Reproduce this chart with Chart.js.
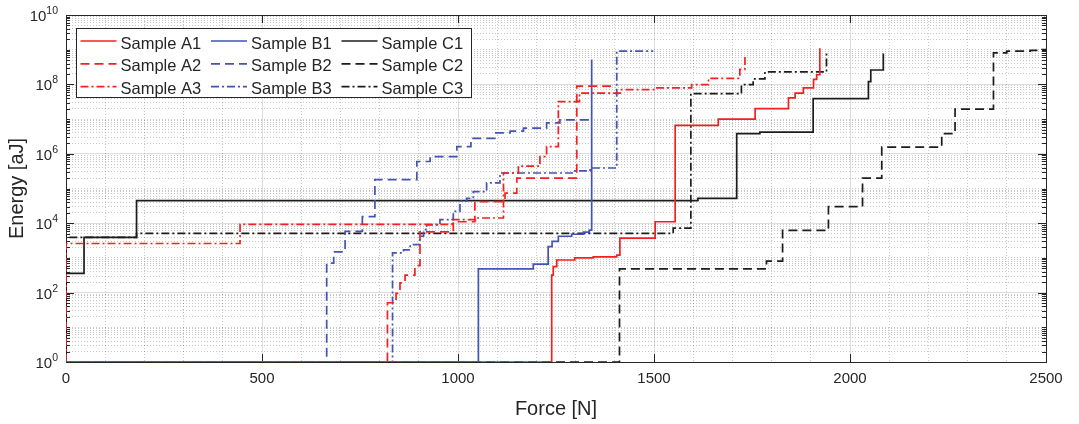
<!DOCTYPE html>
<html>
<head>
<meta charset="utf-8">
<title>Energy vs Force</title>
<script src="https://cdn.jsdelivr.net/npm/chart.js@4.4.1/dist/chart.umd.min.js"></script>
<style>
  html, body { margin: 0; padding: 0; background: #fff; }
  #wrap { width: 1079px; height: 424px; position: relative; }
</style>
</head>
<body>
<div id="wrap"><canvas id="chart"></canvas></div>
<script>
// step curves: force [N] where the energy jumps, energy [aJ] after the jump
const forceA1 = [0, 1239, 1243, 1252, 1298, 1345, 1405, 1413, 1503, 1554, 1664, 1758, 1843, 1860, 1881, 1907, 1915, 1923];
const energyA1 = [1, 320, 560, 870, 1000, 1070, 1200, 3700, 11000, 6.6e6, 1.0e7, 2.0e7, 4.1e7, 5.6e7, 7.9e7, 1.4e8, 1.9e8, 1.1e9];

const forceA2 = [0, 820, 842, 852, 865, 890, 903, 988, 1043, 1120, 1150, 1303, 1390];
const energyA2 = [1, 51, 95, 190, 320, 600, 5600, 11000, 42000, 74000, 2.0e5, 8.9e7, 8.9e7];

const forceA3 = [0, 0, 444, 985, 1045, 1116, 1154, 1209, 1226, 1256, 1310, 1417, 1507, 1596, 1639, 1719, 1732];
const energyA3 = [1, 2600, 9300, 12600, 14100, 2.8e5, 4.4e5, 8.3e5, 1.6e6, 3.2e7, 5.6e7, 7.1e7, 7.9e7, 9.8e7, 1.5e8, 2.7e8, 7.2e8];

const forceB1 = [0, 1052, 1192, 1230, 1240, 1256, 1290, 1320, 1335, 1341];
const energyB1 = [1, 480, 660, 2100, 3000, 4200, 4800, 5500, 6300, 5.2e8];

const forceB2 = [0, 665, 683, 712, 756, 788, 895, 929, 997, 1033, 1094, 1133, 1167, 1226, 1260, 1340];
const energyB2 = [1, 710, 1500, 5800, 15500, 1.8e5, 6.0e5, 8.3e5, 1.6e6, 2.8e6, 4.0e6, 4.5e6, 5.5e6, 7.8e6, 9.5e6, 9.5e6];

const forceB3 = [0, 833, 861, 878, 903, 912, 920, 954, 988, 1005, 1022, 1039, 1073, 1107, 1294, 1337, 1405, 1498];
const energyB3 = [1, 1400, 1700, 2400, 4200, 6500, 8900, 12600, 22000, 43000, 52000, 81000, 1.45e5, 2.8e5, 3.2e5, 3.9e5, 9.1e8, 9.1e8];

const forceC1 = [0, 0, 46, 180, 1612, 1711, 1770, 1906, 2047, 2053, 2085];
const energyC1 = [1, 360, 3900, 45000, 52000, 3.8e6, 4.2e6, 3.9e7, 1.2e8, 2.6e8, 7.8e8];

const forceC2 = [0, 1412, 1787, 1828, 1945, 2032, 2081, 2234, 2268, 2366, 2400, 2460, 2490, 2500];
const energyC2 = [1, 480, 810, 6200, 30000, 2.0e5, 1.55e6, 3.8e6, 1.95e7, 8.1e8, 9.1e8, 9.5e8, 1.0e9, 1.0e9];

const forceC3 = [0, 0, 180, 1549, 1594, 1723, 1753, 1783, 1940];
const energyC3 = [1, 3900, 5100, 7200, 5.4e7, 9.8e7, 1.45e8, 2.3e8, 9.1e8];

const seriesLabels = ['Sample A1', 'Sample A2', 'Sample A3', 'Sample B1', 'Sample B2', 'Sample B3', 'Sample C1', 'Sample C2', 'Sample C3'];
const xLabelTicks = [0, 500, 1000, 1500, 2000, 2500];
const yLabelExponents = [0, 2, 4, 6, 8, 10];

const RED = '#f42020';
const BLUE = '#4454b2';
const BLACK = '#1c1c1c';
const AXIS = '#262626';
const SOLID = [];
const DASHED = [9, 5];
const DASHDOT = [8, 3, 2, 3];

const FONT = '"Liberation Sans", Arial, Helvetica, sans-serif';
Chart.defaults.font.family = FONT;
Chart.defaults.color = AXIS;

function toPoints(xs, ys) {
  return xs.map((x, i) => ({ x: x, y: ys[i] }));
}

function makeSet(label, xs, ys, color, dash) {
  return {
    label: label,
    data: toPoints(xs, ys),
    borderColor: color,
    backgroundColor: color,
    borderDash: dash,
    borderWidth: 1.7,
    stepped: 'before',
    pointRadius: 0,
    fill: false,
    tension: 0
  };
}

function isLabelledY(v) {
  const e = Math.log10(v);
  return Math.abs(e - Math.round(e)) < 1e-6 && yLabelExponents.includes(Math.round(e));
}

// minor grid positions on the log axis: 1..9 x 10^n
const yGridValues = [];
for (let e = 0; e < 10; e++) {
  for (let k = 1; k < 10; k++) yGridValues.push(k * Math.pow(10, e));
}
yGridValues.push(1e10);
const xGridValues = [];
for (let v = 0; v <= 2500; v += 100) xGridValues.push(v);

const matlabLook = {
  id: 'matlabLook',
  beforeDatasetsDraw(chart) {
    const { ctx, chartArea: a, scales: { x, y } } = chart;
    ctx.save();
    ctx.strokeStyle = AXIS;
    ctx.lineWidth = 1;
    ctx.beginPath();
    xLabelTicks.forEach(v => {
      const px = Math.round(x.getPixelForValue(v)) + 0.5;
      ctx.moveTo(px, a.bottom); ctx.lineTo(px, a.bottom - 8);
      ctx.moveTo(px, a.top); ctx.lineTo(px, a.top + 8);
    });
    y.ticks.forEach(t => {
      const len = isLabelledY(t.value) ? 8 : 4;
      const py = Math.round(y.getPixelForValue(t.value)) + 0.5;
      ctx.moveTo(a.left, py); ctx.lineTo(a.left + len, py);
      ctx.moveTo(a.right, py); ctx.lineTo(a.right - len, py);
    });
    ctx.stroke();
    ctx.strokeRect(Math.round(a.left) + 0.5, Math.round(a.top) + 0.5,
      Math.round(a.right - a.left), Math.round(a.bottom - a.top));
    ctx.restore();
  },
  afterDatasetsDraw(chart) {
    const { ctx, chartArea: a, scales: { y } } = chart;
    ctx.save();
    // y tick labels 10^n
    ctx.fillStyle = AXIS;
    ctx.textBaseline = 'alphabetic';
    ctx.textAlign = 'left';
    yLabelExponents.forEach(e => {
      const py = y.getPixelForValue(Math.pow(10, e));
      ctx.font = '15px ' + FONT;
      const wBase = ctx.measureText('10').width;
      ctx.font = '10.5px ' + FONT;
      const wExp = ctx.measureText(String(e)).width;
      const right = a.left - 8;
      ctx.font = '15px ' + FONT;
      ctx.fillText('10', right - wExp - wBase, py + 6);
      ctx.font = '10.5px ' + FONT;
      ctx.fillText(String(e), right - wExp, py - 1);
    });

    // legend box, 3 columns x 3 rows
    const box = { left: 76.5, top: 28.5, width: 395, height: 69 };
    ctx.fillStyle = '#ffffff';
    ctx.fillRect(box.left, box.top, box.width, box.height);
    ctx.strokeStyle = AXIS;
    ctx.lineWidth = 1;
    ctx.strokeRect(box.left, box.top, box.width, box.height);
    ctx.font = '16.5px ' + FONT;
    chart.data.datasets.forEach((ds, i) => {
      const col = Math.floor(i / 3);
      const row = i % 3;
      const x0 = 80.5 + col * 130.5;
      const base = 48.5 + row * 22.8;
      ctx.beginPath();
      ctx.strokeStyle = ds.borderColor;
      ctx.lineWidth = ds.borderWidth;
      ctx.setLineDash(ds.borderDash);
      ctx.moveTo(x0, base - 7.5);
      ctx.lineTo(x0 + 36, base - 7.5);
      ctx.stroke();
      ctx.setLineDash([]);
      ctx.fillStyle = AXIS;
      ctx.fillText(ds.label, x0 + 40, base);
    });
    ctx.restore();
  }
};

new Chart(document.getElementById('chart'), {
  type: 'line',
  data: {
    datasets: [
      makeSet(seriesLabels[0], forceA1, energyA1, RED, SOLID),
      makeSet(seriesLabels[1], forceA2, energyA2, RED, DASHED),
      makeSet(seriesLabels[2], forceA3, energyA3, RED, DASHDOT),
      makeSet(seriesLabels[3], forceB1, energyB1, BLUE, SOLID),
      makeSet(seriesLabels[4], forceB2, energyB2, BLUE, DASHED),
      makeSet(seriesLabels[5], forceB3, energyB3, BLUE, DASHDOT),
      makeSet(seriesLabels[6], forceC1, energyC1, BLACK, SOLID),
      makeSet(seriesLabels[7], forceC2, energyC2, BLACK, DASHED),
      makeSet(seriesLabels[8], forceC3, energyC3, BLACK, DASHDOT)
    ]
  },
  options: {
    responsive: true,
    maintainAspectRatio: false,
    animation: false,
    layout: { padding: { top: 15, right: 33, left: 0, bottom: 0 } },
    plugins: {
      legend: { display: false },
      tooltip: { enabled: false }
    },
    scales: {
      x: {
        type: 'linear',
        min: 0,
        max: 2500,
        afterBuildTicks: scale => { scale.ticks = xGridValues.map(v => ({ value: v })); },
        afterFit: scale => { scale.height = 62; },
        ticks: {
          autoSkip: false,
          maxRotation: 0,
          padding: 8,
          font: { size: 15 },
          color: AXIS,
          callback: v => (xLabelTicks.includes(v) ? String(v) : '')
        },
        grid: {
          drawTicks: false,
          lineWidth: 1,
          color: c => (c.tick && xLabelTicks.includes(c.tick.value)) ? 'rgba(0,0,0,0.13)' : 'rgba(0,0,0,0.22)'
        },
        border: {
          display: false,
          dash: c => (c.tick && xLabelTicks.includes(c.tick.value)) ? [] : [1, 2]
        },
        title: {
          display: true,
          text: 'Force [N]',
          font: { size: 20 },
          color: AXIS,
          padding: { top: 0, bottom: 3 }
        }
      },
      y: {
        type: 'logarithmic',
        min: 1,
        max: 1e10,
        afterBuildTicks: scale => { scale.ticks = yGridValues.map(v => ({ value: v })); },
        afterFit: scale => { scale.width = 66; },
        ticks: { display: false, autoSkip: false },
        grid: {
          drawTicks: false,
          lineWidth: 1,
          color: c => (c.tick && isLabelledY(c.tick.value)) ? 'rgba(0,0,0,0.13)' : 'rgba(0,0,0,0.22)'
        },
        border: {
          display: false,
          dash: c => (c.tick && isLabelledY(c.tick.value)) ? [] : [1, 2]
        },
        title: {
          display: true,
          text: 'Energy [aJ]',
          font: { size: 20 },
          color: AXIS,
          padding: { top: 5, bottom: 0 }
        }
      }
    }
  },
  plugins: [matlabLook]
});
</script>
</body>
</html>
